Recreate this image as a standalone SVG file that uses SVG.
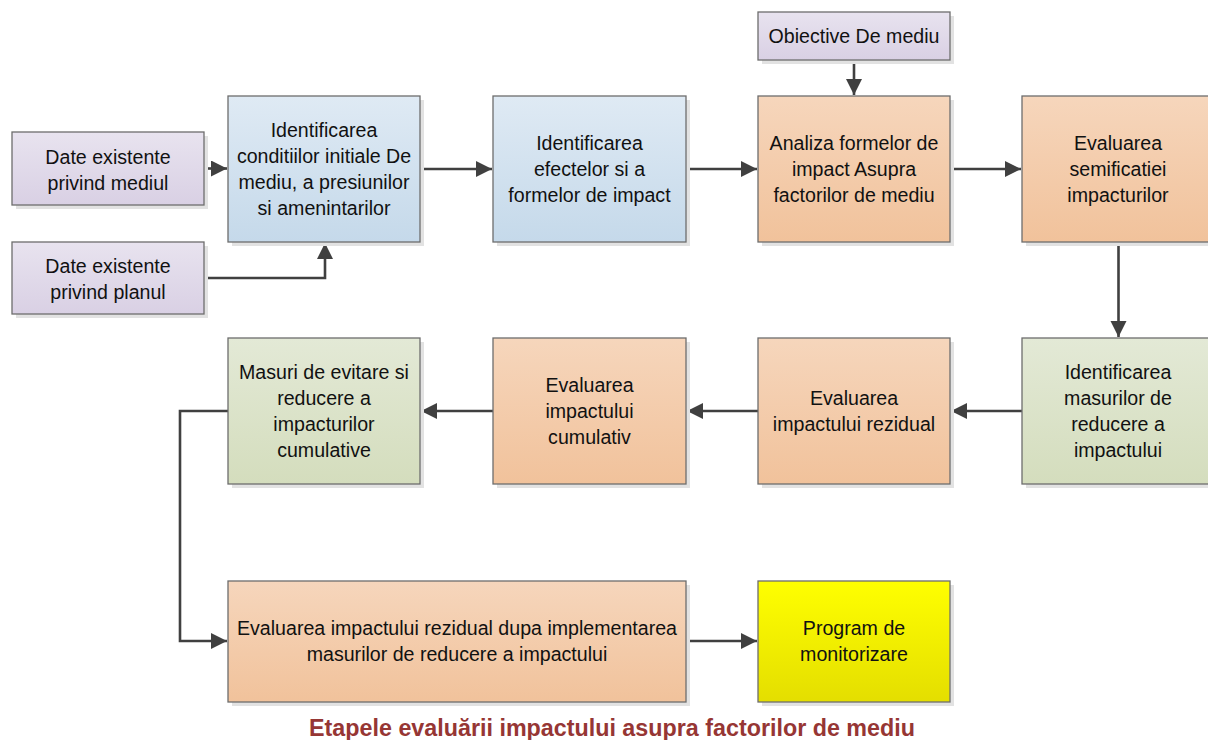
<svg xmlns="http://www.w3.org/2000/svg" width="1208" height="740" viewBox="0 0 1208 740">
<style>
.box{stroke:#6d6d6d;stroke-width:1.3}
.sh{fill:#e2e2e2}
.t{font-family:"Liberation Sans",Arial,sans-serif;font-size:19.6px;fill:#111;text-anchor:middle}
.c{fill:none;stroke:#404040;stroke-width:2.6}
.title{font-family:"Liberation Sans",Arial,sans-serif;font-size:23.3px;font-weight:bold;fill:#963634;text-anchor:middle}
</style>
<defs>
<linearGradient id="gP" x1="0" y1="0" x2="0" y2="1"><stop offset="0" stop-color="#e8e3ef"/><stop offset="1" stop-color="#d9d0e4"/></linearGradient>
<linearGradient id="gB" x1="0" y1="0" x2="0" y2="1"><stop offset="0" stop-color="#dfeaf4"/><stop offset="1" stop-color="#c5d9ea"/></linearGradient>
<linearGradient id="gO" x1="0" y1="0" x2="0" y2="1"><stop offset="0" stop-color="#f6d6bc"/><stop offset="1" stop-color="#f1c29b"/></linearGradient>
<linearGradient id="gG" x1="0" y1="0" x2="0" y2="1"><stop offset="0" stop-color="#e3e9d6"/><stop offset="1" stop-color="#d4ddbd"/></linearGradient>
<linearGradient id="gY" x1="0" y1="0" x2="0" y2="1"><stop offset="0" stop-color="#ffff00"/><stop offset="1" stop-color="#e4de00"/></linearGradient>
<marker id="ah" markerUnits="userSpaceOnUse" markerWidth="18" markerHeight="18" refX="16" refY="8" orient="auto"><path d="M0,0 L16,8 L0,16 z" fill="#404040"/></marker>
</defs>

<g id="connectors">
<path class="c" d="M204,168.5 H227" marker-end="url(#ah)"/>
<path class="c" d="M204,278 H325 V243" marker-end="url(#ah)"/>
<path class="c" d="M420,169 H492" marker-end="url(#ah)"/>
<path class="c" d="M686,169 H757" marker-end="url(#ah)"/>
<path class="c" d="M854,60 V95" marker-end="url(#ah)"/>
<path class="c" d="M950,169 H1021" marker-end="url(#ah)"/>
<path class="c" d="M1118.5,242 V337" marker-end="url(#ah)"/>
<path class="c" d="M1022,411 H951" marker-end="url(#ah)"/>
<path class="c" d="M758,411 H687" marker-end="url(#ah)"/>
<path class="c" d="M493,411 H421" marker-end="url(#ah)"/>
<path class="c" d="M228,411 H180 V641 H227" marker-end="url(#ah)"/>
<path class="c" d="M686,641 H757" marker-end="url(#ah)"/>
</g>

<g id="n_date_mediul">
<rect class="sh" x="16" y="136" width="192" height="73"/>
<rect class="box" x="12" y="132" width="192" height="73" fill="url(#gP)"/>
<text class="t" x="108" y="164">Date existente</text>
<text class="t" x="108" y="190">privind mediul</text>
</g>
<g id="n_date_planul">
<rect class="sh" x="16" y="246" width="192" height="72"/>
<rect class="box" x="12" y="242" width="192" height="72" fill="url(#gP)"/>
<text class="t" x="108" y="273">Date existente</text>
<text class="t" x="108" y="299">privind planul</text>
</g>
<g id="n_ident_cond">
<rect class="sh" x="232" y="100" width="192" height="146"/>
<rect class="box" x="228" y="96" width="192" height="146" fill="url(#gB)"/>
<text class="t" x="324" y="137">Identificarea</text>
<text class="t" x="324" y="163">conditiilor initiale De</text>
<text class="t" x="324" y="189">mediu, a presiunilor</text>
<text class="t" x="324" y="215">si amenintarilor</text>
</g>
<g id="n_ident_efect">
<rect class="sh" x="497" y="100" width="193" height="146"/>
<rect class="box" x="493" y="96" width="193" height="146" fill="url(#gB)"/>
<text class="t" x="589.5" y="150">Identificarea</text>
<text class="t" x="589.5" y="176">efectelor si a</text>
<text class="t" x="589.5" y="202">formelor de impact</text>
</g>
<g id="n_obiective">
<rect class="sh" x="762" y="16" width="192" height="48"/>
<rect class="box" x="758" y="12" width="192" height="48" fill="url(#gP)"/>
<text class="t" x="854" y="43">Obiective De mediu</text>
</g>
<g id="n_analiza">
<rect class="sh" x="762" y="100" width="192" height="146"/>
<rect class="box" x="758" y="96" width="192" height="146" fill="url(#gO)"/>
<text class="t" x="854" y="150">Analiza formelor de</text>
<text class="t" x="854" y="176">impact Asupra</text>
<text class="t" x="854" y="202">factorilor de mediu</text>
</g>
<g id="n_eval_semif">
<rect class="sh" x="1026" y="100" width="192" height="146"/>
<rect class="box" x="1022" y="96" width="192" height="146" fill="url(#gO)"/>
<text class="t" x="1118" y="150">Evaluarea</text>
<text class="t" x="1118" y="176">semificatiei</text>
<text class="t" x="1118" y="202">impacturilor</text>
</g>
<g id="n_ident_masuri">
<rect class="sh" x="1026" y="342" width="192" height="146"/>
<rect class="box" x="1022" y="338" width="192" height="146" fill="url(#gG)"/>
<text class="t" x="1118" y="379">Identificarea</text>
<text class="t" x="1118" y="405">masurilor de</text>
<text class="t" x="1118" y="431">reducere a</text>
<text class="t" x="1118" y="457">impactului</text>
</g>
<g id="n_eval_rezidual">
<rect class="sh" x="762" y="342" width="192" height="146"/>
<rect class="box" x="758" y="338" width="192" height="146" fill="url(#gO)"/>
<text class="t" x="854" y="405">Evaluarea</text>
<text class="t" x="854" y="431">impactului rezidual</text>
</g>
<g id="n_eval_cumulativ">
<rect class="sh" x="497" y="342" width="193" height="146"/>
<rect class="box" x="493" y="338" width="193" height="146" fill="url(#gO)"/>
<text class="t" x="589.5" y="392">Evaluarea</text>
<text class="t" x="589.5" y="418">impactului</text>
<text class="t" x="589.5" y="444">cumulativ</text>
</g>
<g id="n_masuri_evitare">
<rect class="sh" x="232" y="342" width="192" height="146"/>
<rect class="box" x="228" y="338" width="192" height="146" fill="url(#gG)"/>
<text class="t" x="324" y="379">Masuri de evitare si</text>
<text class="t" x="324" y="405">reducere a</text>
<text class="t" x="324" y="431">impacturilor</text>
<text class="t" x="324" y="457">cumulative</text>
</g>
<g id="n_eval_dupa">
<rect class="sh" x="232" y="585" width="458" height="121"/>
<rect class="box" x="228" y="581" width="458" height="121" fill="url(#gO)"/>
<text class="t" x="457" y="635">Evaluarea impactului rezidual dupa implementarea</text>
<text class="t" x="457" y="661">masurilor de reducere a impactului</text>
</g>
<g id="n_program">
<rect class="sh" x="762" y="585" width="192" height="121"/>
<rect class="box" x="758" y="581" width="192" height="121" fill="url(#gY)"/>
<text class="t" x="854" y="635">Program de</text>
<text class="t" x="854" y="661">monitorizare</text>
</g>

<text class="title" x="612" y="736">Etapele evaluării impactului asupra factorilor de mediu</text>
</svg>
